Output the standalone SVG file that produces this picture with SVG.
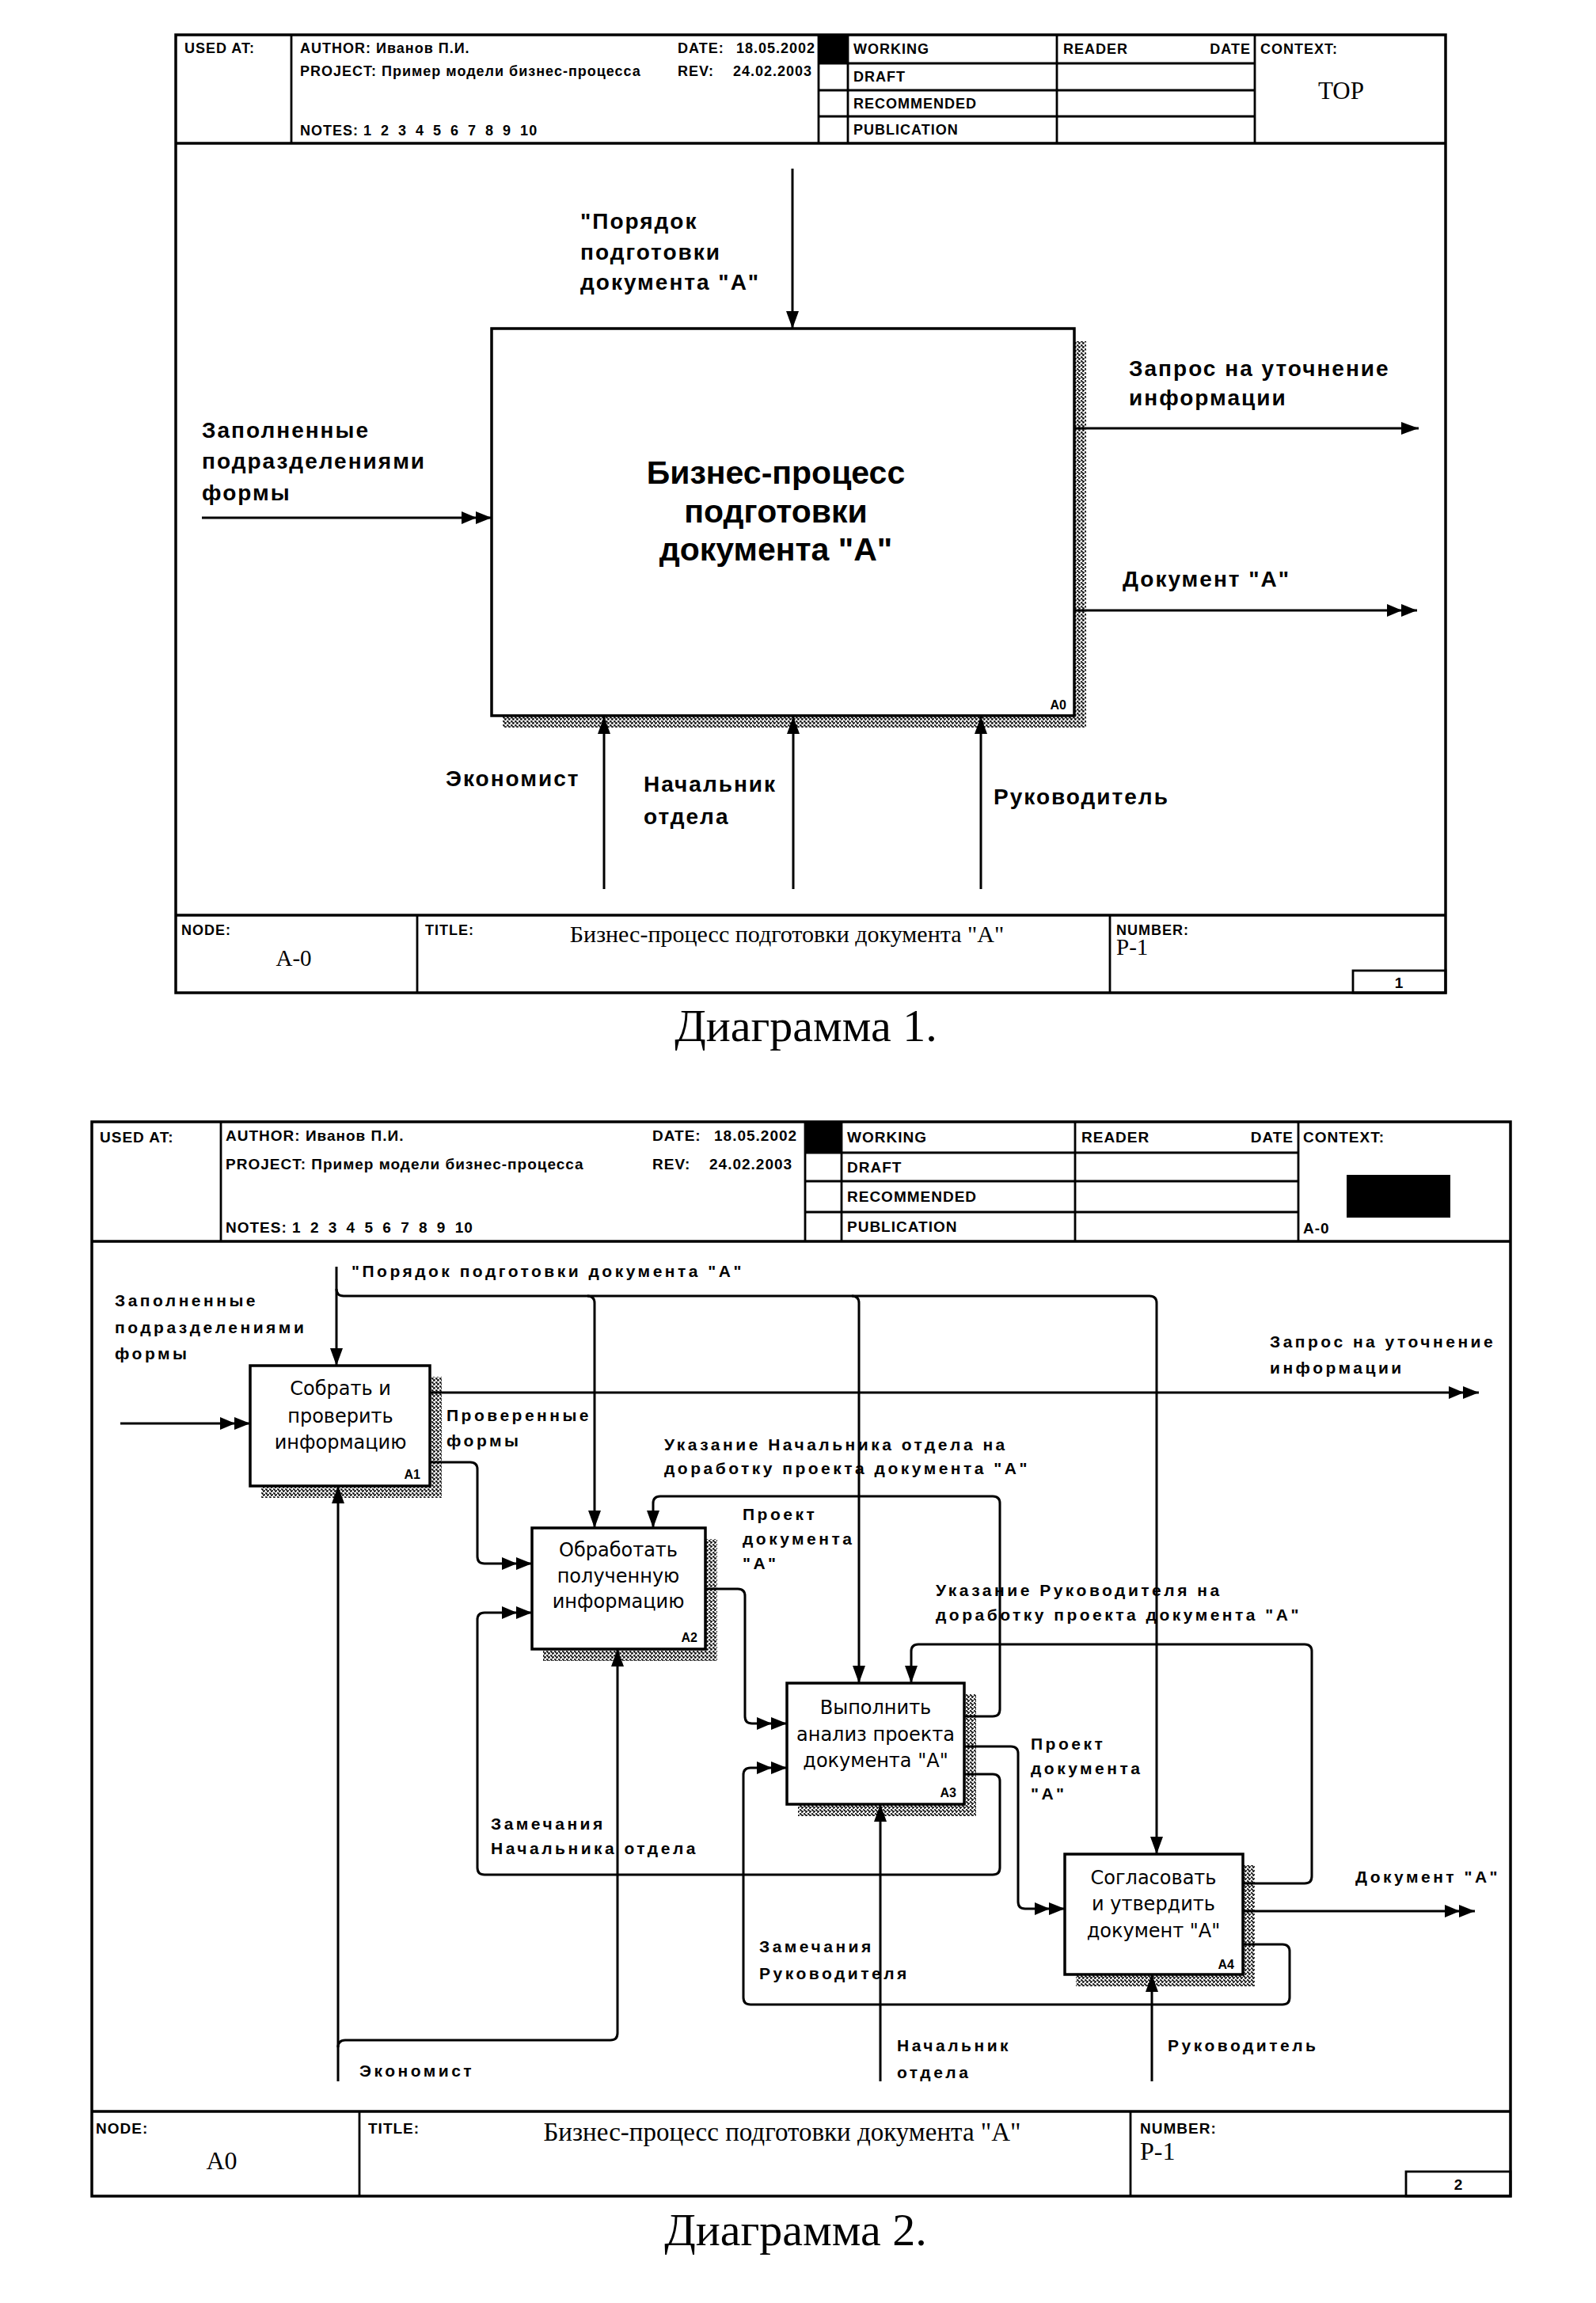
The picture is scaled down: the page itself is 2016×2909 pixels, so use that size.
<svg xmlns="http://www.w3.org/2000/svg" width="2016" height="2909" viewBox="0 0 2016 2909">
<style>
.frame{fill:none;stroke:#000;stroke-width:3.5}
.ln{fill:none;stroke:#000;stroke-width:2.8}
.box{fill:#fff;stroke:#000;stroke-width:3.5}
.sh{fill:url(#hatch);stroke:none}
.conn{fill:none;stroke:#000;stroke-width:3}
.hdr{font-family:"Liberation Sans",Arial,sans-serif;font-weight:bold;font-size:18px;letter-spacing:1px;fill:#000}
.hdr2{font-family:"Liberation Sans",Arial,sans-serif;font-weight:bold;font-size:19px;letter-spacing:1px;fill:#000}
.num{font-family:"Liberation Sans",Arial,sans-serif;font-weight:bold;font-size:19px;fill:#000;text-anchor:middle}
.l1{font-family:"Liberation Sans",Arial,sans-serif;font-weight:bold;font-size:28px;letter-spacing:2px;fill:#000}
.l2{font-family:"Liberation Sans",Arial,sans-serif;font-weight:bold;font-size:21px;letter-spacing:3.5px;fill:#000}
.b1{font-family:"Liberation Sans",Arial,sans-serif;font-weight:bold;font-size:41px;text-anchor:middle;fill:#000}
.b2{font-family:"DejaVu Sans","Liberation Sans",sans-serif;font-size:24px;text-anchor:middle;fill:#000}
.id{font-family:"Liberation Sans",Arial,sans-serif;font-weight:bold;font-size:16px;text-anchor:end;fill:#000}
.sf{font-family:"Liberation Serif","Times New Roman",serif;fill:#000}
.cap{font-family:"Liberation Serif","Times New Roman",serif;font-size:58px;text-anchor:middle;fill:#000}
</style>
<defs>
<pattern id="hatch" patternUnits="userSpaceOnUse" width="5" height="5">
<path d="M0.3,0.3 L2.6,2.6 M4.7,2.4 L2.4,4.7" stroke="#000" stroke-width="1.7" fill="none"/>
</pattern>
<marker id="a1" markerUnits="userSpaceOnUse" markerWidth="24" markerHeight="18" refX="22" refY="8" orient="auto">
<path d="M0,0 L22,8 L0,16 z" fill="#000"/>
</marker>
<marker id="a2" markerUnits="userSpaceOnUse" markerWidth="40" markerHeight="18" refX="38" refY="8" orient="auto">
<path d="M0,0 L19,8 L0,16 z M18,0 L38,8 L18,16 z" fill="#000"/>
</marker>
</defs>
<rect width="2016" height="2909" fill="#fff"/>

<!-- ================= DIAGRAM 1 ================= -->
<g id="d1-frame">
<rect class="frame" x="222" y="44" width="1604" height="1210"/>
<line class="frame" x1="222" y1="181" x2="1826" y2="181"/>
<line class="ln" x1="368" y1="44" x2="368" y2="181"/>
<line class="ln" x1="1034" y1="44" x2="1034" y2="181"/>
<line class="ln" x1="1071" y1="44" x2="1071" y2="181"/>
<line class="ln" x1="1335" y1="44" x2="1335" y2="181"/>
<line class="ln" x1="1585" y1="44" x2="1585" y2="181"/>
<line class="ln" x1="1034" y1="80" x2="1585" y2="80"/>
<line class="ln" x1="1034" y1="114" x2="1585" y2="114"/>
<line class="ln" x1="1034" y1="147" x2="1585" y2="147"/>
<rect x="1034" y="44" width="37" height="36" fill="#000"/>
<text class="hdr" x="233" y="67">USED AT:</text>
<text class="hdr" x="379" y="67">AUTHOR: Иванов П.И.</text>
<text class="hdr" x="379" y="96">PROJECT: Пример модели бизнес-процесса</text>
<text class="hdr" x="379" y="171">NOTES: <tspan word-spacing="5">1 2 3 4 5 6 7 8 9 10</tspan></text>
<text class="hdr" x="856" y="67">DATE:</text>
<text class="hdr" x="930" y="67" letter-spacing="0">18.05.2002</text>
<text class="hdr" x="856" y="96">REV:</text>
<text class="hdr" x="926" y="96" letter-spacing="0">24.02.2003</text>
<text class="hdr" x="1078" y="68">WORKING</text>
<text class="hdr" x="1078" y="103">DRAFT</text>
<text class="hdr" x="1078" y="137">RECOMMENDED</text>
<text class="hdr" x="1078" y="170">PUBLICATION</text>
<text class="hdr" x="1343" y="68">READER</text>
<text class="hdr" x="1580" y="68" text-anchor="end">DATE</text>
<text class="hdr" x="1592" y="68">CONTEXT:</text>
<text class="sf" x="1694" y="125" font-size="31" text-anchor="middle">TOP</text>
<line class="frame" x1="222" y1="1156" x2="1826" y2="1156"/>
<line class="ln" x1="527" y1="1156" x2="527" y2="1254"/>
<line class="ln" x1="1402" y1="1156" x2="1402" y2="1254"/>
<rect class="ln" x="1709" y="1226" width="117" height="28"/>
<text class="hdr" x="229" y="1181">NODE:</text>
<text class="sf" x="371" y="1220" font-size="29" text-anchor="middle">A-0</text>
<text class="hdr" x="537" y="1181">TITLE:</text>
<text class="sf" x="994" y="1190" font-size="30" text-anchor="middle">Бизнес-процесс  подготовки документа "А"</text>
<text class="hdr" x="1410" y="1181">NUMBER:</text>
<text class="sf" x="1410" y="1206" font-size="29">P-1</text>
<text class="num" x="1767" y="1248">1</text>
</g>

<g id="d1-A0">
<path class="sh" d="M1357,431 H1372 V919 H635 V904 H1357 Z"/>
<rect class="box" x="621" y="415" width="736" height="489"/>
<text class="b1" x="980" y="611">Бизнес-процесс</text>
<text class="b1" x="980" y="660">подготовки</text>
<text class="b1" x="980" y="708">документа "А"</text>
<text class="id" x="1347" y="896">A0</text>
</g>

<g id="d1-connectors">
<path class="conn" d="M1001,213 V415" marker-end="url(#a1)"/>
<path class="conn" d="M255,654 H621" marker-end="url(#a2)"/>
<path class="conn" d="M1357,541 H1792" marker-end="url(#a1)"/>
<path class="conn" d="M1357,771 H1790" marker-end="url(#a2)"/>
<path class="conn" d="M763,1123 V905" marker-end="url(#a1)"/>
<path class="conn" d="M1002,1123 V905" marker-end="url(#a1)"/>
<path class="conn" d="M1239,1123 V905" marker-end="url(#a1)"/>
</g>

<g id="d1-labels">
<text class="l1" x="733" y="289">"Порядок</text>
<text class="l1" x="733" y="328">подготовки</text>
<text class="l1" x="733" y="366">документа "А"</text>
<text class="l1" x="255" y="553">Заполненные</text>
<text class="l1" x="255" y="592">подразделениями</text>
<text class="l1" x="255" y="632">формы</text>
<text class="l1" x="1426" y="475">Запрос на уточнение</text>
<text class="l1" x="1426" y="512">информации</text>
<text class="l1" x="1418" y="741">Документ "А"</text>
<text class="l1" x="563" y="993">Экономист</text>
<text class="l1" x="813" y="1000">Начальник</text>
<text class="l1" x="813" y="1041">отдела</text>
<text class="l1" x="1255" y="1016">Руководитель</text>
</g>

<text class="cap" x="1018" y="1315">Диаграмма 1.</text>

<!-- ================= DIAGRAM 2 ================= -->
<g id="d2-frame">
<rect class="frame" x="116" y="1417" width="1792" height="1357"/>
<line class="frame" x1="116" y1="1568" x2="1908" y2="1568"/>
<line class="ln" x1="279" y1="1417" x2="279" y2="1568"/>
<line class="ln" x1="1017" y1="1417" x2="1017" y2="1568"/>
<line class="ln" x1="1063" y1="1417" x2="1063" y2="1568"/>
<line class="ln" x1="1358" y1="1417" x2="1358" y2="1568"/>
<line class="ln" x1="1640" y1="1417" x2="1640" y2="1568"/>
<line class="ln" x1="1017" y1="1456" x2="1640" y2="1456"/>
<line class="ln" x1="1017" y1="1492" x2="1640" y2="1492"/>
<line class="ln" x1="1017" y1="1531" x2="1640" y2="1531"/>
<rect x="1017" y="1417" width="46" height="39" fill="#000"/>
<rect x="1701" y="1484" width="131" height="54" fill="#000"/>
<text class="hdr2" x="126" y="1443">USED AT:</text>
<text class="hdr2" x="285" y="1441">AUTHOR: Иванов П.И.</text>
<text class="hdr2" x="285" y="1477">PROJECT: Пример модели бизнес-процесса</text>
<text class="hdr2" x="285" y="1557">NOTES: <tspan word-spacing="5">1 2 3 4 5 6 7 8 9 10</tspan></text>
<text class="hdr2" x="824" y="1441">DATE:</text>
<text class="hdr2" x="902" y="1441" letter-spacing="0">18.05.2002</text>
<text class="hdr2" x="824" y="1477">REV:</text>
<text class="hdr2" x="896" y="1477" letter-spacing="0">24.02.2003</text>
<text class="hdr2" x="1070" y="1443">WORKING</text>
<text class="hdr2" x="1070" y="1481">DRAFT</text>
<text class="hdr2" x="1070" y="1518">RECOMMENDED</text>
<text class="hdr2" x="1070" y="1556">PUBLICATION</text>
<text class="hdr2" x="1366" y="1443">READER</text>
<text class="hdr2" x="1634" y="1443" text-anchor="end">DATE</text>
<text class="hdr2" x="1646" y="1443">CONTEXT:</text>
<text class="hdr2" x="1646" y="1558" letter-spacing="0">A-0</text>
<line class="frame" x1="116" y1="2667" x2="1908" y2="2667"/>
<line class="ln" x1="454" y1="2667" x2="454" y2="2774"/>
<line class="ln" x1="1428" y1="2667" x2="1428" y2="2774"/>
<rect class="ln" x="1776" y="2743" width="132" height="31"/>
<text class="hdr2" x="121" y="2695">NODE:</text>
<text class="sf" x="280" y="2740" font-size="32" text-anchor="middle">A0</text>
<text class="hdr2" x="465" y="2695">TITLE:</text>
<text class="sf" x="988" y="2704" font-size="33" text-anchor="middle">Бизнес-процесс  подготовки документа "А"</text>
<text class="hdr2" x="1440" y="2695">NUMBER:</text>
<text class="sf" x="1440" y="2728" font-size="32">P-1</text>
<text class="num" x="1842" y="2766">2</text>
</g>

<g id="d2-A1">
<path class="sh" d="M543,1739 H558 V1892 H330 V1877 H543 Z"/>
<rect class="box" x="316" y="1725" width="227" height="152"/>
<text class="b2" x="430" y="1762">Собрать и</text>
<text class="b2" x="430" y="1797">проверить</text>
<text class="b2" x="430" y="1830">информацию</text>
<text class="id" x="531" y="1868">A1</text>
</g>
<g id="d2-A2">
<path class="sh" d="M891,1944 H906 V2098 H686 V2083 H891 Z"/>
<rect class="box" x="672" y="1930" width="219" height="153"/>
<text class="b2" x="781" y="1966">Обработать</text>
<text class="b2" x="781" y="1999">полученную</text>
<text class="b2" x="781" y="2031">информацию</text>
<text class="id" x="881" y="2074">A2</text>
</g>
<g id="d2-A3">
<path class="sh" d="M1218,2140 H1233 V2294 H1008 V2279 H1218 Z"/>
<rect class="box" x="994" y="2126" width="224" height="153"/>
<text class="b2" x="1106" y="2165">Выполнить</text>
<text class="b2" x="1106" y="2199">анализ проекта</text>
<text class="b2" x="1106" y="2232">документа "А"</text>
<text class="id" x="1208" y="2270">A3</text>
</g>
<g id="d2-A4">
<path class="sh" d="M1570,2356 H1585 V2509 H1359 V2494 H1570 Z"/>
<rect class="box" x="1345" y="2342" width="225" height="152"/>
<text class="b2" x="1457" y="2380">Согласовать</text>
<text class="b2" x="1457" y="2413">и утвердить</text>
<text class="b2" x="1457" y="2447">документ "А"</text>
<text class="id" x="1559" y="2487">A4</text>
</g>

<g id="d2-connectors">
<path class="conn" d="M425,1600 V1725" marker-end="url(#a1)"/>
<path class="conn" d="M425,1628 Q425,1637 434,1637 H1452 Q1461,1637 1461,1646 V2342" marker-end="url(#a1)"/>
<path class="conn" d="M742,1637 Q751,1637 751,1646 V1930" marker-end="url(#a1)"/>
<path class="conn" d="M1076,1637 Q1085,1637 1085,1646 V2126" marker-end="url(#a1)"/>
<path class="conn" d="M152,1798 H316" marker-end="url(#a2)"/>
<path class="conn" d="M543,1759 H1868" marker-end="url(#a2)"/>
<path class="conn" d="M543,1847 H594 Q603,1847 603,1856 V1966 Q603,1975 612,1975 H672" marker-end="url(#a2)"/>
<path class="conn" d="M1218,2168 H1254 Q1263,2168 1263,2159 V1899 Q1263,1890 1254,1890 H834 Q825,1890 825,1899 V1930" marker-end="url(#a1)"/>
<path class="conn" d="M891,2007 H932 Q941,2007 941,2016 V2168 Q941,2177 950,2177 H994" marker-end="url(#a2)"/>
<path class="conn" d="M1218,2241 H1254 Q1263,2241 1263,2250 V2359 Q1263,2368 1254,2368 H612 Q603,2368 603,2359 V2046 Q603,2037 612,2037 H672" marker-end="url(#a2)"/>
<path class="conn" d="M1218,2206 H1277 Q1286,2206 1286,2215 V2402 Q1286,2411 1295,2411 H1345" marker-end="url(#a2)"/>
<path class="conn" d="M1570,2379 H1648 Q1657,2379 1657,2370 V2086 Q1657,2077 1648,2077 H1160 Q1151,2077 1151,2086 V2126" marker-end="url(#a1)"/>
<path class="conn" d="M1570,2414 H1863" marker-end="url(#a2)"/>
<path class="conn" d="M1570,2456 H1620 Q1629,2456 1629,2465 V2523 Q1629,2532 1620,2532 H948 Q939,2532 939,2523 V2242 Q939,2233 948,2233 H994" marker-end="url(#a2)"/>
<path class="conn" d="M427,2629 V1877" marker-end="url(#a1)"/>
<path class="conn" d="M427,2586 Q427,2577 436,2577 H771 Q780,2577 780,2568 V2083" marker-end="url(#a1)"/>
<path class="conn" d="M1112,2629 V2279" marker-end="url(#a1)"/>
<path class="conn" d="M1455,2629 V2494" marker-end="url(#a1)"/>
</g>

<g id="d2-labels">
<text class="l2" x="444" y="1613">"Порядок подготовки документа "А"</text>
<text class="l2" x="145" y="1650">Заполненные</text>
<text class="l2" x="145" y="1684">подразделениями</text>
<text class="l2" x="145" y="1717">формы</text>
<text class="l2" x="1604" y="1702">Запрос на уточнение</text>
<text class="l2" x="1604" y="1735">информации</text>
<text class="l2" x="564" y="1795">Проверенные</text>
<text class="l2" x="564" y="1827">формы</text>
<text class="l2" x="839" y="1832">Указание Начальника отдела на</text>
<text class="l2" x="839" y="1862">доработку проекта документа "А"</text>
<text class="l2" x="938" y="1920">Проект</text>
<text class="l2" x="938" y="1951">документа</text>
<text class="l2" x="938" y="1982">"А"</text>
<text class="l2" x="1182" y="2016">Указание Руководителя на</text>
<text class="l2" x="1182" y="2047">доработку проекта документа "А"</text>
<text class="l2" x="1302" y="2210">Проект</text>
<text class="l2" x="1302" y="2241">документа</text>
<text class="l2" x="1302" y="2273">"А"</text>
<text class="l2" x="620" y="2311">Замечания</text>
<text class="l2" x="620" y="2342">Начальника отдела</text>
<text class="l2" x="959" y="2466">Замечания</text>
<text class="l2" x="959" y="2500">Руководителя</text>
<text class="l2" x="1712" y="2378">Документ "А"</text>
<text class="l2" x="454" y="2623">Экономист</text>
<text class="l2" x="1133" y="2591">Начальник</text>
<text class="l2" x="1133" y="2625">отдела</text>
<text class="l2" x="1475" y="2591">Руководитель</text>
</g>

<text class="cap" x="1005" y="2836">Диаграмма 2.</text>
</svg>
